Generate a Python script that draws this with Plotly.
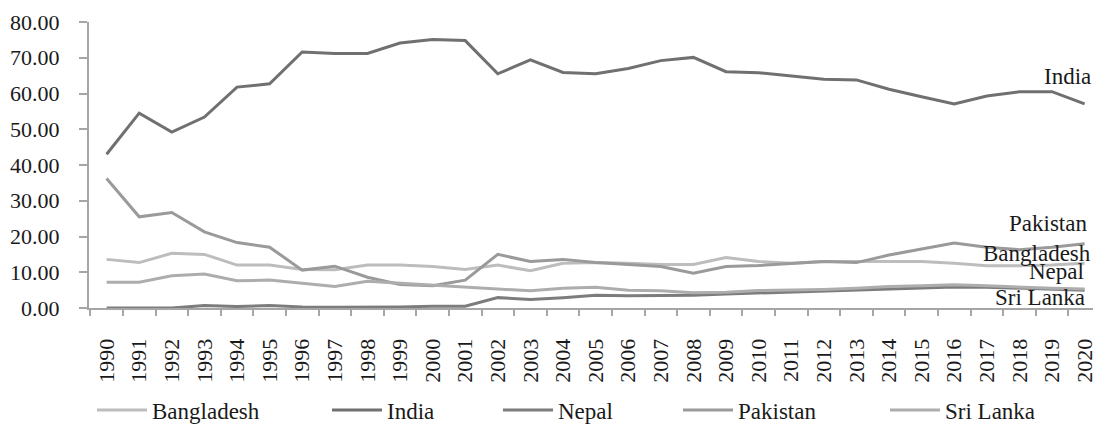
import plotly.graph_objects as go

years = [str(y) for y in range(1990, 2021)]

bangladesh = [13.6, 12.7, 15.3, 15.0, 12.0, 12.0, 10.8, 10.7, 12.0, 12.0, 11.6,
              10.8, 12.0, 10.4, 12.5, 12.7, 12.5, 12.2, 12.2, 14.1, 13.0,
              12.5, 13.0, 13.0, 13.2, 13.0, 12.5, 11.8, 11.8, 12.0, 12.5]
india = [43.0, 54.5, 49.2, 53.4, 61.8, 62.7, 71.6, 71.2, 71.2, 74.1, 75.1,
         74.8, 65.5, 69.4, 65.9, 65.5, 67.0, 69.2, 70.1, 66.1, 65.8,
         64.9, 64.0, 63.8, 61.2, 59.1, 57.1, 59.3, 60.5, 60.5, 57.1]
nepal = [0.0, 0.0, 0.0, 0.7, 0.4, 0.7, 0.3, 0.2, 0.2, 0.3, 0.5,
         0.5, 2.9, 2.4, 2.9, 3.6, 3.4, 3.4, 3.6, 3.9, 4.2,
         4.5, 4.8, 5.2, 5.5, 5.6, 5.9, 5.8, 5.5, 5.2, 5.0]
pakistan = [36.2, 25.5, 26.7, 21.3, 18.3, 17.0, 10.6, 11.7, 8.6, 6.6, 6.2,
            7.8, 15.0, 13.0, 13.6, 12.7, 12.2, 11.6, 9.7, 11.6, 11.9,
            12.5, 13.0, 12.7, 14.8, 16.5, 18.2, 17.0, 16.3, 17.0, 18.0]
sri_lanka = [7.2, 7.2, 9.0, 9.5, 7.6, 7.8, 6.9, 6.0, 7.5, 7.0, 6.4,
             6.0, 5.5, 4.8, 5.5, 5.8, 5.0, 4.8, 4.3, 4.4, 4.9,
             5.0, 5.2, 5.5, 6.0, 6.2, 6.5, 6.2, 5.8, 5.5, 5.3]

series_names = ["Bangladesh", "India", "Nepal", "Pakistan", "Sri Lanka"]
series_values = [bangladesh, india, nepal, pakistan, sri_lanka]
colors = ["#bdbdbd", "#707070", "#7c7c7c", "#9a9a9a", "#adadad"]
legend_ids = ["legend", "legend2", "legend3", "legend4", "legend5"]

FONT = "Liberation Serif"
TXT = "#1a1a1a"
AX = "#a6a6a6"

W, H = 1093, 426
ML, MR, MT, MB = 89, 0, 22, 118
PW = W - ML - MR
PH = H - MT - MB

fig = go.Figure()
for name, vals, col, lg in zip(series_names, series_values, colors, legend_ids):
    fig.add_trace(go.Scatter(x=years, y=vals, mode="lines", name=name,
                             line=dict(color=col, width=3), legend=lg))

# legend item left positions (pixels)
legend_px = [92, 327, 498, 678, 885]
legend_layout = {}
for lg, px in zip(legend_ids, legend_px):
    legend_layout[lg] = dict(
        x=(px - ML) / PW, xanchor="left",
        y=(H - MB - 410) / PH, yanchor="middle",
        orientation="h", itemwidth=50,
        font=dict(family=FONT, size=23, color=TXT),
        bgcolor="rgba(0,0,0,0)", borderwidth=0,
    )

# end-of-line labels (right-aligned, pixel positions)
end_labels = [("India", 1093, 76), ("Pakistan", 1089, 223), ("Bangladesh", 1093, 253),
              ("Nepal", 1086, 271), ("Sri Lanka", 1087, 297)]
annotations = []
for txt, rx, cy in end_labels:
    annotations.append(dict(
        text=txt, xref="paper", yref="paper",
        x=(rx - ML) / PW, y=(H - MB - cy) / PH,
        xanchor="right", yanchor="middle", showarrow=False,
        font=dict(family=FONT, size=23, color=TXT),
    ))

fig.update_layout(
    width=W, height=H,
    margin=dict(l=ML, r=MR, t=MT, b=MB, autoexpand=False),
    paper_bgcolor="white", plot_bgcolor="white",
    showlegend=True,
    annotations=annotations,
    **legend_layout,
)
fig.update_xaxes(
    type="category", categoryorder="array", categoryarray=years,
    range=[-0.54, -0.54 + PW / 32.6], automargin=False,
    tickson="boundaries", ticks="outside", ticklen=6, tickcolor=AX, tickwidth=1.5,
    showline=True, linecolor=AX, linewidth=2,
    showgrid=False, zeroline=False,
    tickangle=-90, ticklabelstandoff=20,
    tickfont=dict(family=FONT, size=22, color=TXT),
)
fig.update_yaxes(
    range=[0, 80], dtick=10, tick0=0, tickformat=".2f", automargin=False,
    ticks="outside", ticklen=8, tickcolor=AX, tickwidth=1.5,
    showline=True, linecolor=AX, linewidth=2,
    showgrid=False, zeroline=False, ticklabelstandoff=15,
    tickfont=dict(family=FONT, size=22, color=TXT),
)

fig.write_html("out.html", config={"displayModeBar": False},
               post_script="document.body.style.margin='0';")
